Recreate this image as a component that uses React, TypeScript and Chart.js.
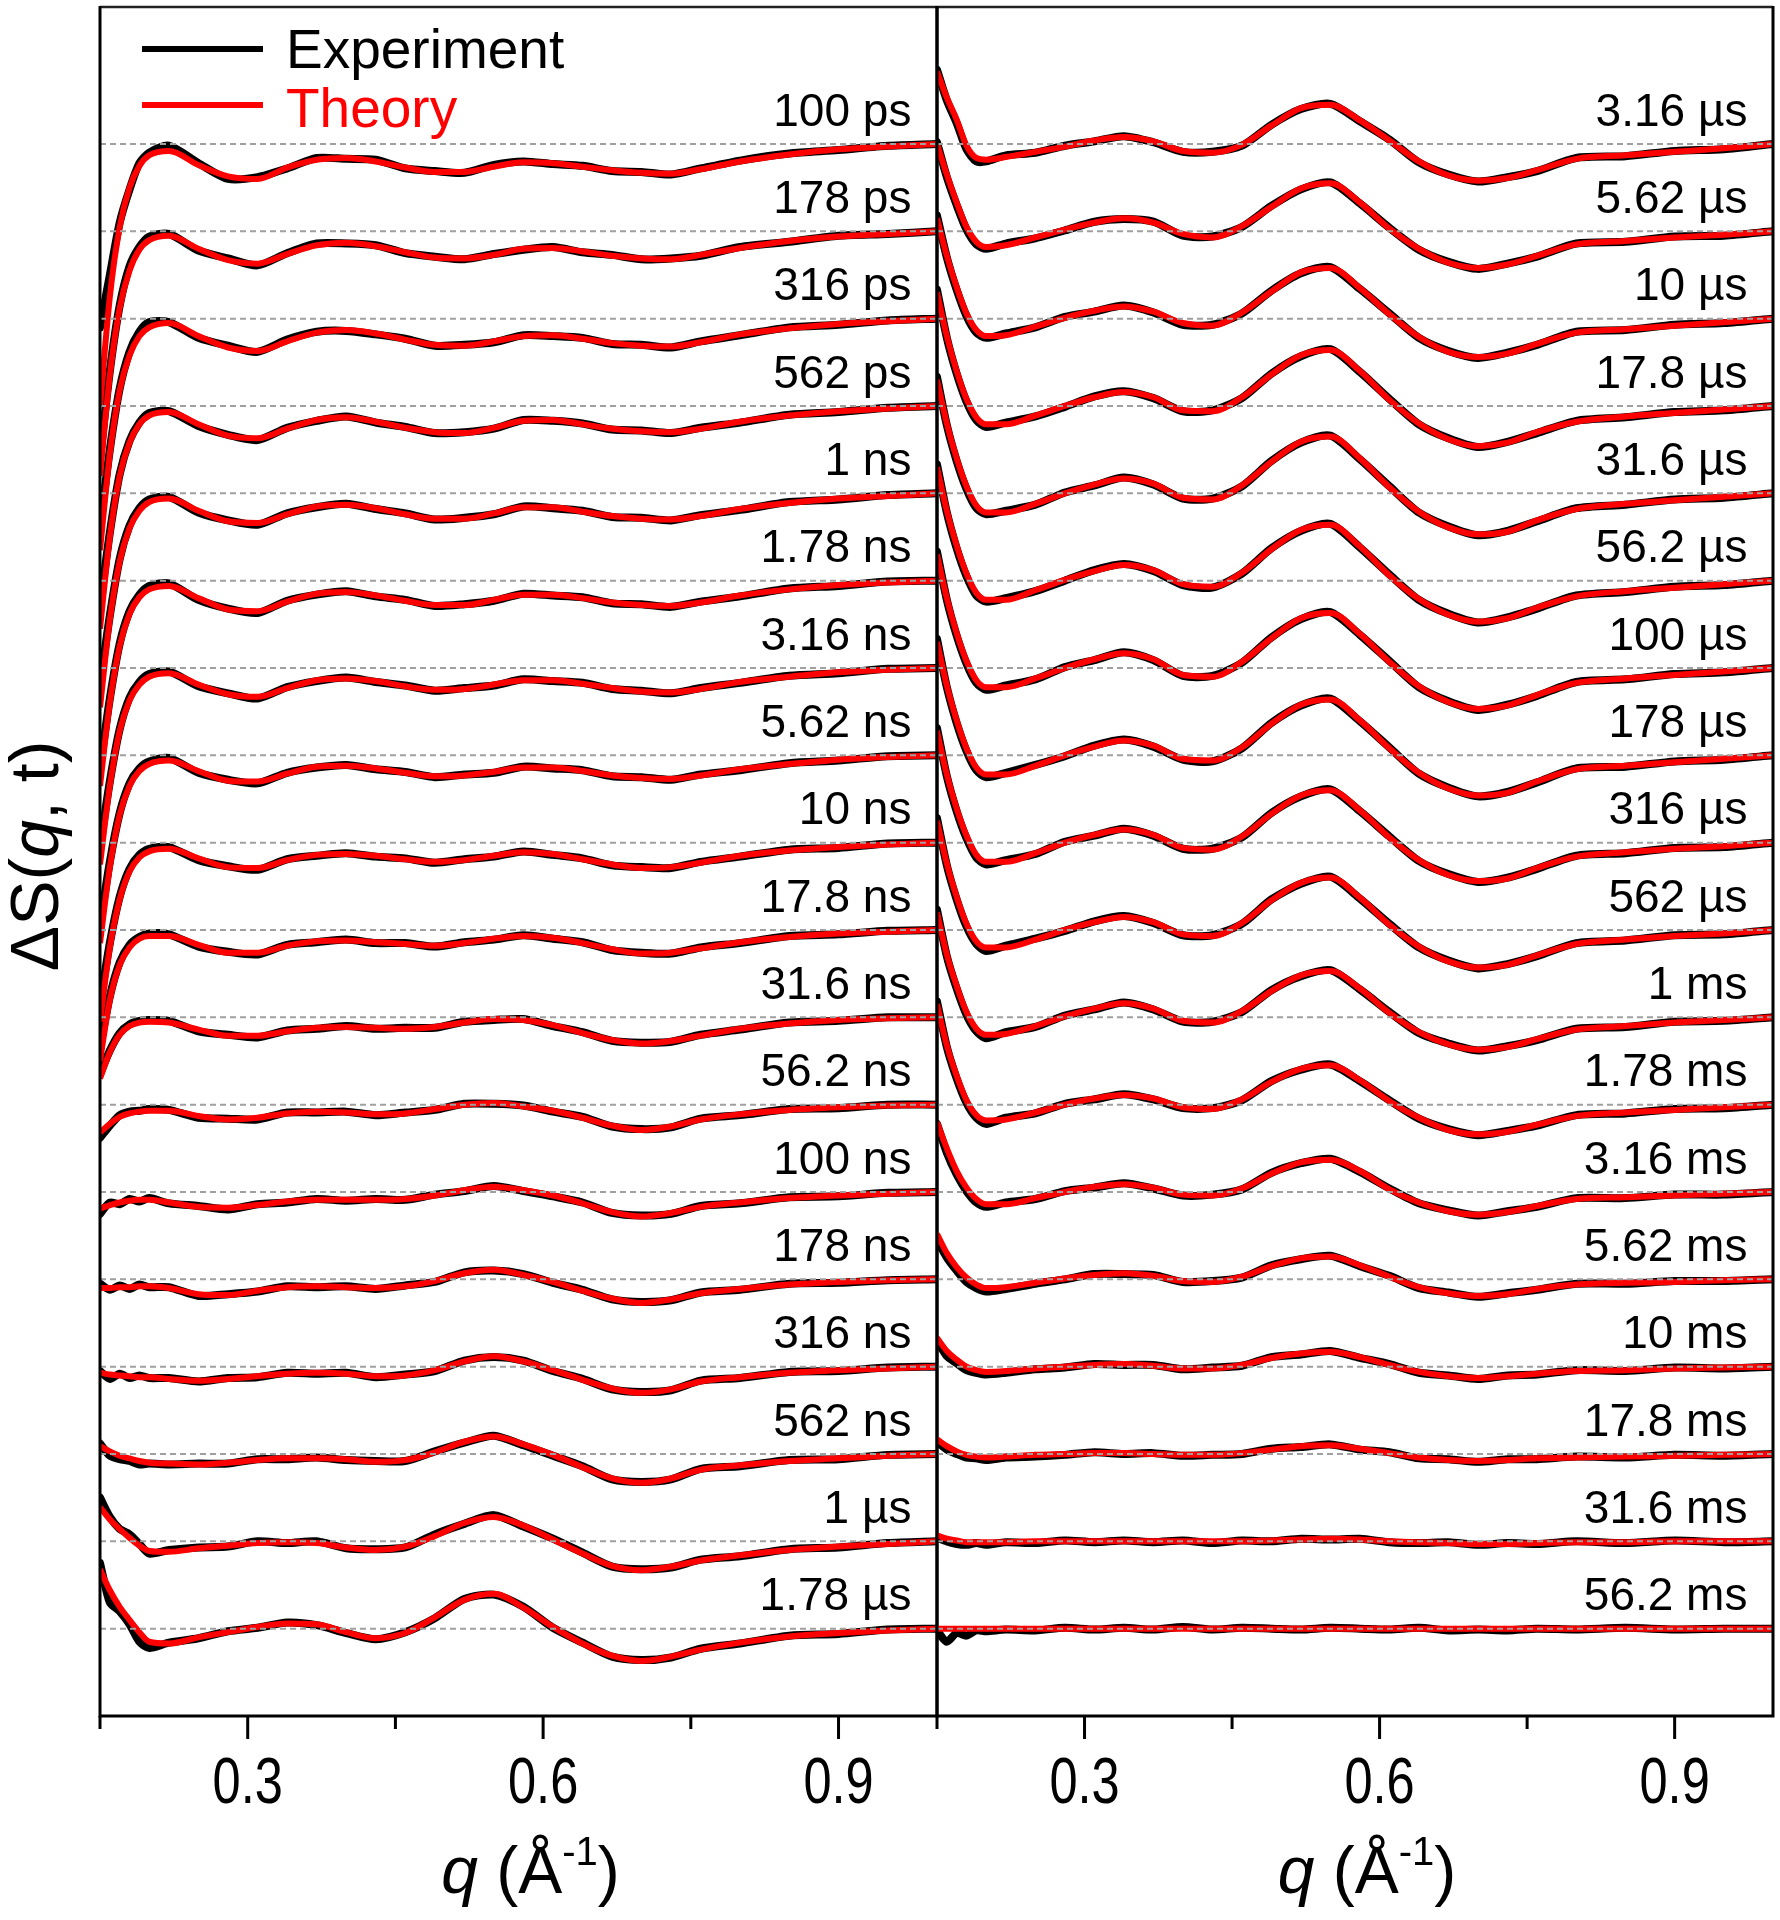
import React, { useEffect, useRef } from 'react';
import { Chart, registerables } from 'chart.js';

Chart.register(...registerables);

const W = 1780;
const H = 1920;

// q grid (Å^-1) shared by every curve
const Q = [0.15, 0.16, 0.17, 0.18, 0.19, 0.2, 0.22, 0.25, 0.28, 0.31, 0.34, 0.37, 0.4, 0.43, 0.46, 0.49, 0.52, 0.55, 0.58, 0.61, 0.64, 0.67, 0.7, 0.73, 0.76, 0.8, 0.85, 0.9, 0.95, 1.0];

const LEFT_LABELS = ['100 ps', '178 ps', '316 ps', '562 ps', '1 ns', '1.78 ns', '3.16 ns', '5.62 ns', '10 ns', '17.8 ns', '31.6 ns', '56.2 ns', '100 ns', '178 ns', '316 ns', '562 ns', '1 µs', '1.78 µs'];
const RIGHT_LABELS = ['3.16 µs', '5.62 µs', '10 µs', '17.8 µs', '31.6 µs', '56.2 µs', '100 µs', '178 µs', '316 µs', '562 µs', '1 ms', '1.78 ms', '3.16 ms', '5.62 ms', '10 ms', '17.8 ms', '31.6 ms', '56.2 ms'];

// ΔS values in hundredths of the stacking step, top curve first
const THEORY_LEFT = [
  [-300, -175, -95, -50, -25, -13, -8, -24, -37, -40, -27, -18, -16, -20, -27, -32, -32, -26, -21, -22, -26, -30, -33, -34, -29, -20, -12, -6, -3, 0],
  [-280, -165, -88, -45, -21, -10, -5, -20, -33, -37, -26, -16, -13, -17, -24, -30, -31, -27, -20, -19, -23, -28, -31, -32, -27, -19, -11, -6, -3, 0],
  [-265, -155, -82, -42, -20, -10, -5, -20, -33, -37, -26, -16, -13, -17, -24, -30, -31, -26, -20, -19, -23, -28, -31, -32, -27, -18, -11, -6, -3, 0],
  [-255, -150, -80, -42, -21, -11, -7, -21, -34, -37, -26, -16, -13, -18, -25, -30, -31, -25, -17, -16, -21, -26, -29, -30, -26, -18, -11, -6, -3, 0],
  [-245, -145, -78, -40, -20, -10, -6, -20, -32, -34, -24, -15, -13, -17, -24, -29, -29, -23, -16, -16, -21, -26, -29, -30, -26, -18, -11, -6, -3, 0],
  [-235, -140, -75, -38, -19, -10, -6, -20, -33, -35, -24, -15, -13, -17, -23, -28, -28, -22, -16, -16, -20, -25, -28, -29, -25, -17, -10, -5, -2, 0],
  [-225, -135, -72, -37, -19, -10, -6, -19, -30, -33, -23, -14, -12, -15, -21, -25, -24, -19, -14, -14, -18, -23, -27, -28, -24, -16, -10, -5, -2, 0],
  [-215, -128, -68, -35, -18, -10, -6, -18, -29, -30, -21, -13, -12, -15, -20, -24, -23, -19, -14, -14, -18, -23, -26, -27, -23, -16, -10, -5, -2, 0],
  [-205, -120, -65, -33, -17, -10, -7, -18, -28, -29, -20, -14, -13, -15, -19, -22, -20, -15, -11, -13, -19, -25, -29, -28, -23, -15, -9, -5, -2, 0],
  [-150, -80, -40, -20, -10, -7, -7, -17, -26, -26, -18, -13, -12, -14, -16, -18, -15, -10, -7, -9, -15, -22, -27, -26, -21, -14, -8, -4, -2, 0],
  [-70, -40, -20, -10, -6, -5, -6, -14, -21, -21, -16, -12, -11, -12, -13, -11, -6, -2, -3, -9, -18, -26, -30, -27, -21, -13, -7, -3, -1, 0],
  [-32, -22, -14, -10, -8, -7, -7, -13, -17, -15, -10, -8, -9, -11, -10, -5, 0, 2, -2, -7, -15, -24, -29, -25, -17, -11, -6, -3, -1, 0],
  [-19, -15, -12, -10, -9, -9, -12, -17, -18, -15, -11, -9, -9, -9, -8, -4, 2, 6, 2, -4, -13, -23, -28, -24, -17, -12, -7, -4, -2, 0],
  [-10, -10, -9, -9, -8, -8, -10, -17, -18, -13, -9, -8, -9, -10, -8, -2, 7, 11, 5, -3, -13, -22, -27, -23, -16, -11, -6, -3, -1, 0],
  [-7, -9, -10, -11, -12, -12, -14, -16, -14, -11, -8, -7, -8, -11, -10, -4, 6, 12, 6, -4, -15, -25, -30, -26, -17, -12, -7, -4, -2, 0],
  [9, 3, -2, -5, -8, -10, -11, -12, -10, -7, -5, -5, -6, -9, -7, 2, 14, 20, 11, -1, -15, -28, -33, -28, -18, -13, -8, -5, -2, 0],
  [39, 25, 14, 4, -5, -11, -12, -8, -5, -2, -1, -2, -7, -10, -6, 6, 21, 28, 18, 2, -14, -28, -33, -29, -22, -16, -10, -6, -3, 0],
  [68, 44, 25, 10, -4, -15, -17, -10, -4, 2, 6, 5, -4, -11, -5, 13, 33, 40, 24, 2, -17, -31, -37, -32, -24, -16, -9, -5, -2, 0],
];

const EXP_LEFT = [
  [-210, -150, -90, -52, -22, -10, -2, -22, -40, -38, -28, -16, -17, -18, -28, -31, -33, -24, -20, -23, -25, -31, -32, -35, -28, -19, -11, -7, -2, 0],
  [-260, -160, -85, -40, -18, -6, -3, -22, -31, -39, -25, -14, -14, -16, -25, -29, -32, -26, -21, -18, -24, -27, -32, -31, -28, -18, -12, -5, -3, 0],
  [-240, -150, -80, -38, -15, -4, -4, -22, -31, -38, -24, -15, -14, -18, -23, -31, -30, -27, -19, -20, -22, -29, -30, -33, -26, -19, -10, -7, -2, 0],
  [-230, -145, -78, -40, -19, -8, -6, -23, -33, -39, -25, -17, -12, -19, -24, -31, -30, -26, -16, -17, -20, -27, -28, -31, -25, -19, -10, -7, -2, 0],
  [-220, -140, -75, -37, -17, -7, -4, -22, -31, -36, -23, -16, -12, -18, -23, -30, -28, -24, -15, -17, -20, -27, -28, -31, -25, -19, -10, -7, -2, 0],
  [-215, -135, -72, -35, -16, -6, -3, -22, -32, -37, -23, -16, -12, -18, -22, -29, -27, -23, -15, -17, -19, -26, -27, -30, -24, -18, -9, -6, -1, 0],
  [-205, -130, -70, -34, -16, -7, -4, -21, -29, -35, -22, -15, -11, -16, -20, -26, -23, -20, -13, -15, -17, -24, -26, -29, -23, -17, -9, -6, -1, 0],
  [-195, -122, -66, -32, -15, -7, -3, -20, -28, -32, -20, -14, -11, -16, -19, -25, -22, -20, -13, -15, -17, -24, -25, -28, -22, -17, -9, -6, -1, 0],
  [-185, -115, -62, -30, -14, -7, -5, -20, -27, -31, -19, -15, -12, -16, -18, -23, -19, -16, -10, -14, -18, -26, -28, -29, -22, -16, -8, -6, -1, 0],
  [-135, -76, -37, -17, -8, -4, -5, -19, -25, -28, -17, -14, -11, -15, -15, -19, -14, -11, -6, -10, -14, -23, -26, -27, -20, -15, -7, -5, -1, 0],
  [-65, -38, -18, -8, -4, -3, -4, -16, -20, -23, -15, -13, -10, -13, -12, -12, -5, -3, -2, -10, -17, -27, -29, -28, -20, -14, -6, -4, 0, 0],
  [-38, -24, -12, -8, -7, -5, -6, -15, -16, -17, -9, -9, -8, -12, -9, -6, 1, 1, -1, -8, -14, -25, -28, -26, -16, -12, -5, -4, 0, 0],
  [-25, -12, -14, -8, -11, -7, -13, -16, -20, -14, -12, -8, -10, -8, -9, -3, 1, 7, 1, -5, -12, -24, -27, -25, -16, -13, -6, -5, -1, 0],
  [-5, -12, -7, -11, -6, -9, -9, -19, -17, -14, -8, -9, -8, -11, -7, -3, 8, 10, 6, -4, -12, -23, -26, -24, -15, -12, -5, -4, -1, 0],
  [-5, -14, -8, -13, -10, -13, -13, -17, -13, -12, -7, -8, -7, -12, -9, -5, 7, 11, 7, -5, -14, -26, -29, -27, -16, -13, -6, -5, -1, 0],
  [12, -2, -6, -8, -12, -11, -12, -11, -11, -6, -6, -4, -7, -8, -8, 3, 13, 21, 10, -2, -14, -29, -32, -29, -17, -14, -7, -6, -1, 0],
  [50, 28, 14, 8, -3, -14, -10, -7, -6, 0, -2, 0, -8, -9, -7, 8, 20, 30, 17, 3, -13, -29, -32, -30, -21, -17, -9, -7, -2, 0],
  [75, 30, 20, 5, -15, -22, -16, -11, -3, 1, 7, 4, -5, -12, -4, 12, 34, 39, 25, 1, -16, -32, -36, -33, -23, -17, -8, -6, -1, 0],
];

const THEORY_RIGHT = [
  [83, 53, 28, -2, -16, -18, -15, -9, -3, 4, 8, 3, -8, -10, -1, 21, 41, 45, 27, 4, -20, -36, -42, -39, -30, -17, -13, -9, -5, 0],
  [100, 65, 33, 5, -12, -18, -16, -7, 2, 10, 15, 10, -3, -7, 6, 28, 49, 55, 33, 3, -20, -36, -42, -38, -28, -15, -11, -7, -4, 0],
  [115, 72, 36, 6, -13, -20, -19, -9, 1, 9, 14, 8, -5, -8, 7, 31, 53, 58, 35, 5, -21, -38, -44, -40, -29, -16, -12, -8, -4, 0],
  [130, 80, 40, 8, -13, -21, -21, -11, 0, 10, 16, 10, -5, -6, 10, 36, 58, 64, 40, 7, -20, -38, -46, -42, -30, -18, -12, -8, -4, 0],
  [130, 80, 40, 8, -14, -22, -22, -12, 0, 10, 17, 11, -5, -7, 9, 36, 59, 65, 40, 7, -21, -39, -47, -44, -31, -18, -12, -8, -4, 0],
  [130, 80, 40, 8, -14, -22, -22, -11, 1, 11, 18, 12, -4, -7, 9, 36, 58, 64, 39, 6, -21, -39, -47, -43, -31, -18, -12, -8, -4, 0],
  [130, 80, 40, 8, -14, -22, -22, -12, 0, 10, 17, 10, -8, -10, 7, 34, 57, 63, 39, 7, -21, -39, -47, -43, -31, -17, -12, -8, -4, 0],
  [130, 80, 40, 8, -14, -22, -22, -12, 0, 10, 17, 11, -4, -6, 9, 36, 58, 64, 40, 8, -20, -38, -46, -43, -30, -16, -12, -8, -4, 0],
  [128, 78, 39, 8, -14, -22, -22, -12, 0, 9, 15, 9, -6, -8, 7, 33, 54, 60, 37, 6, -20, -37, -44, -41, -29, -16, -11, -7, -4, 0],
  [125, 76, 38, 7, -13, -20, -20, -11, 0, 9, 15, 9, -5, -7, 8, 34, 54, 60, 37, 6, -19, -36, -43, -40, -29, -16, -11, -7, -4, 0],
  [120, 72, 36, 6, -13, -20, -19, -10, 1, 10, 16, 10, -4, -6, 7, 30, 48, 53, 33, 5, -17, -31, -37, -34, -25, -14, -10, -6, -3, 0],
  [115, 68, 33, 5, -12, -18, -17, -9, 0, 7, 11, 7, -3, -5, 6, 26, 41, 45, 28, 4, -15, -29, -34, -31, -23, -13, -9, -6, -3, 0],
  [80, 50, 24, 5, -8, -14, -14, -7, 0, 6, 9, 5, -3, -4, 4, 21, 34, 37, 24, 3, -12, -22, -26, -23, -16, -8, -6, -4, -2, 0],
  [52, 30, 14, 2, -6, -10, -9, -4, 1, 5, 7, 4, -2, -3, 3, 15, 24, 26, 16, 3, -9, -16, -19, -17, -11, -6, -4, -3, -1, 0],
  [33, 18, 8, 0, -4, -6, -5, -2, 0, 2, 3, 1, -2, -2, 2, 10, 15, 17, 11, 2, -6, -11, -13, -11, -8, -5, -4, -2, -1, 0],
  [17, 9, 3, -1, -3, -4, -3, -1, 0, 1, 1, 0, -1, -1, 1, 5, 9, 10, 6, 1, -4, -7, -8, -7, -5, -4, -3, -2, -1, 0],
  [7, 3, 1, -1, -1, -1, -1, 0, 0, 0, 0, 0, 0, 0, 0, 1, 2, 3, 2, 0, -1, -2, -3, -3, -2, -1, -1, 0, 0, 0],
  [0, 0, 0, 0, 0, 0, 0, 0, 0, 0, 0, 0, 0, 0, 0, 0, 0, 0, 0, 0, 0, 0, 0, 0, 0, 0, 0, 0, 0, 0],
];

const EXP_RIGHT = [
  [85, 50, 24, -6, -20, -20, -13, -10, -2, 3, 9, 2, -9, -9, -2, 22, 40, 46, 26, 5, -21, -35, -43, -38, -31, -16, -14, -8, -6, 0],
  [102, 62, 30, 2, -15, -20, -14, -8, 1, 11, 14, 11, -5, -6, 5, 29, 48, 56, 32, 4, -21, -35, -43, -37, -29, -14, -12, -6, -5, 0],
  [118, 70, 33, 3, -16, -22, -17, -10, 2, 8, 15, 7, -7, -7, 6, 32, 52, 59, 34, 6, -22, -37, -45, -39, -30, -15, -13, -7, -5, 0],
  [133, 78, 37, 5, -16, -24, -19, -12, -1, 11, 17, 9, -6, -5, 9, 37, 57, 65, 39, 8, -21, -37, -47, -41, -31, -17, -13, -7, -5, 0],
  [133, 78, 37, 5, -17, -24, -20, -13, 1, 9, 18, 10, -6, -6, 8, 37, 58, 66, 39, 8, -22, -38, -48, -43, -32, -17, -13, -7, -5, 0],
  [133, 78, 37, 5, -17, -24, -20, -12, 0, 12, 19, 11, -5, -8, 8, 37, 57, 65, 38, 7, -22, -38, -48, -42, -32, -17, -13, -7, -5, 0],
  [133, 78, 37, 5, -17, -25, -20, -13, 1, 9, 18, 9, -9, -9, 6, 35, 56, 64, 38, 8, -22, -38, -48, -42, -32, -16, -13, -7, -5, 0],
  [133, 78, 37, 5, -17, -25, -20, -11, -1, 11, 18, 10, -5, -7, 8, 37, 57, 65, 39, 9, -21, -37, -47, -42, -31, -15, -13, -7, -5, 0],
  [131, 76, 36, 5, -17, -25, -20, -13, 1, 8, 16, 8, -7, -7, 6, 34, 53, 61, 36, 7, -21, -36, -45, -40, -30, -15, -12, -6, -5, 0],
  [128, 74, 35, 4, -16, -24, -18, -10, -1, 10, 16, 8, -6, -6, 7, 35, 53, 61, 36, 7, -20, -35, -44, -39, -30, -15, -12, -6, -5, 0],
  [123, 70, 33, 3, -16, -24, -17, -11, 2, 9, 17, 9, -5, -5, 6, 31, 47, 54, 32, 6, -18, -30, -38, -33, -26, -13, -11, -5, -4, 0],
  [118, 66, 30, 2, -15, -22, -15, -10, 1, 6, 12, 6, -4, -4, 5, 27, 40, 46, 27, 5, -16, -28, -35, -30, -24, -12, -10, -5, -4, 0],
  [78, 45, 20, 1, -12, -17, -12, -8, 1, 5, 10, 4, -4, -3, 3, 22, 33, 38, 23, 4, -13, -21, -27, -22, -17, -7, -7, -3, -3, 0],
  [45, 25, 10, -3, -10, -14, -11, -5, 0, 6, 6, 5, -3, -2, 2, 16, 23, 27, 15, 4, -10, -15, -20, -16, -12, -5, -5, -2, -2, 0],
  [30, 12, 4, -4, -7, -9, -7, -3, -1, 3, 2, 2, -3, -1, 1, 11, 14, 18, 10, 3, -7, -10, -14, -10, -9, -4, -5, -1, -2, 0],
  [14, 5, 0, -4, -5, -7, -4, -3, -1, 2, 0, 1, -2, -1, 0, 6, 8, 11, 5, 2, -5, -6, -9, -6, -6, -3, -4, -1, -2, 0],
  [4, 0, -3, -4, -2, -4, -1, -2, 1, -1, 1, -1, 1, -2, 1, 0, 3, 2, 3, -1, -2, -1, -4, -2, -3, 0, -2, 1, -1, 0],
  [-2, -15, -5, -8, -2, -3, -1, -2, 1, -1, 1, -1, 2, -1, 1, 0, -1, 1, 0, -1, 1, -2, -1, -2, 0, -1, 1, -1, 0, 0],
];

const X_MIN = 0.15;
const X_MAX = 1.0;
const X_MAJOR_TICKS = [0.3, 0.6, 0.9];
const X_MINOR_TICKS = [0.15, 0.45, 0.75];
const STEP = 100; // vertical offset between stacked curves
const Y_MIN = -100;
const Y_MAX = 1858;
const LABEL_Q = 0.974;
const LABEL_RISE = 21;

const SANS = '"Liberation Sans", Arial, Helvetica, sans-serif';

function makeDatasets(theory: number[][], exp: number[][]) {
  const n = theory.length;
  const out: any[] = [];
  for (let i = 0; i < n; i++) {
    const off = (n - 1 - i) * STEP;
    out.push({
      label: 'zero',
      data: [{ x: X_MIN, y: off }, { x: X_MAX, y: off }],
      borderColor: '#a0a0a0',
      borderWidth: 2,
      borderDash: [6, 4],
      pointRadius: 0,
      tension: 0,
      order: 0,
    });
    out.push({
      label: 'Experiment',
      data: Q.map((q, k) => ({ x: q, y: exp[i][k] + off })),
      borderColor: '#000000',
      borderWidth: 8,
      borderJoinStyle: 'round',
      borderCapStyle: 'round',
      pointRadius: 0,
      tension: 0.25,
      order: 2,
    });
    out.push({
      label: 'Theory',
      data: Q.map((q, k) => ({ x: q, y: theory[i][k] + off })),
      borderColor: '#ff0000',
      borderWidth: 6,
      borderJoinStyle: 'round',
      pointRadius: 0,
      cubicInterpolationMode: 'monotone',
      order: 1,
    });
  }
  return out;
}

function drawParts(ctx: CanvasRenderingContext2D, parts: { t: string; f: string; dy: number }[], cx: number, base: number) {
  let total = 0;
  for (const p of parts) {
    ctx.font = p.f;
    total += ctx.measureText(p.t).width;
  }
  let x = cx - total / 2;
  ctx.textAlign = 'left';
  ctx.textBaseline = 'alphabetic';
  for (const p of parts) {
    ctx.font = p.f;
    ctx.fillText(p.t, x, base + p.dy);
    x += ctx.measureText(p.t).width;
  }
}

function decorPlugin(side: 'left' | 'right', labels: string[]) {
  return {
    id: 'decor_' + side,
    afterDraw(chart: any) {
      const ctx: CanvasRenderingContext2D = chart.ctx;
      const a = chart.chartArea;
      const xs = chart.scales.x;
      const ys = chart.scales.y;
      ctx.save();
      // frame
      ctx.strokeStyle = '#222';
      ctx.lineWidth = 2.5;
      ctx.beginPath();
      ctx.moveTo(a.left, a.top + 1);
      ctx.lineTo(a.right, a.top + 1);
      ctx.stroke();
      ctx.strokeStyle = '#000';
      ctx.lineWidth = 3;
      ctx.beginPath();
      ctx.moveTo(a.left, a.top);
      ctx.lineTo(a.left, a.bottom);
      ctx.moveTo(a.left - 1.5, a.bottom);
      ctx.lineTo(a.right + 1.5, a.bottom);
      ctx.moveTo(a.right, a.top);
      ctx.lineTo(a.right, a.bottom);
      ctx.stroke();
      // ticks
      ctx.lineWidth = 3;
      ctx.beginPath();
      for (const v of X_MAJOR_TICKS) {
        const px = xs.getPixelForValue(v);
        ctx.moveTo(px, a.bottom);
        ctx.lineTo(px, a.bottom + 23);
      }
      for (const v of X_MINOR_TICKS) {
        const px = xs.getPixelForValue(v);
        ctx.moveTo(px, a.bottom);
        ctx.lineTo(px, a.bottom + 13);
      }
      ctx.stroke();
      // tick labels (narrow)
      ctx.fillStyle = '#000';
      ctx.font = `64px ${SANS}`;
      ctx.textAlign = 'center';
      ctx.textBaseline = 'alphabetic';
      for (const v of X_MAJOR_TICKS) {
        const px = xs.getPixelForValue(v);
        ctx.save();
        ctx.translate(px, a.bottom + 87);
        ctx.scale(0.79, 1);
        ctx.fillText(v.toFixed(1), 0, 0);
        ctx.restore();
      }
      // x title
      drawParts(
        ctx,
        [
          { t: 'q', f: `italic 66px ${SANS}`, dy: 0 },
          { t: ' (Å', f: `66px ${SANS}`, dy: 0 },
          { t: '-1', f: `40px ${SANS}`, dy: -28 },
          { t: ')', f: `66px ${SANS}`, dy: 0 },
        ],
        (a.left + a.right) / 2 + 12,
        a.bottom + 177
      );
      // curve labels
      ctx.font = `46px ${SANS}`;
      ctx.textAlign = 'right';
      ctx.fillStyle = '#000';
      const n = labels.length;
      labels.forEach((t, i) => {
        const off = (n - 1 - i) * STEP;
        ctx.fillText(t, xs.getPixelForValue(LABEL_Q), ys.getPixelForValue(off + LABEL_RISE));
      });
      if (side === 'left') {
        // legend
        ctx.lineWidth = 6;
        ctx.lineCap = 'butt';
        ctx.strokeStyle = '#000';
        ctx.beginPath();
        ctx.moveTo(142, 49);
        ctx.lineTo(263, 49);
        ctx.stroke();
        ctx.strokeStyle = '#ff0000';
        ctx.beginPath();
        ctx.moveTo(142, 105);
        ctx.lineTo(263, 105);
        ctx.stroke();
        ctx.font = `55px ${SANS}`;
        ctx.textAlign = 'left';
        ctx.fillStyle = '#000';
        ctx.fillText('Experiment', 286, 68);
        ctx.fillStyle = '#ff0000';
        ctx.fillText('Theory', 286, 127);
        // y title
        ctx.fillStyle = '#000';
        ctx.save();
        ctx.translate(58, 856);
        ctx.rotate(-Math.PI / 2);
        drawParts(
          ctx,
          [
            { t: 'ΔS(', f: `68px ${SANS}`, dy: 0 },
            { t: 'q', f: `italic 68px ${SANS}`, dy: 0 },
            { t: ', t)', f: `68px ${SANS}`, dy: 0 },
          ],
          0,
          0
        );
        ctx.restore();
      }
      ctx.restore();
    },
  };
}

function makeChart(canvas: HTMLCanvasElement, theory: number[][], exp: number[][], labels: string[], side: 'left' | 'right', padLeft: number, padRight: number) {
  return new Chart(canvas, {
    type: 'line',
    data: { datasets: makeDatasets(theory, exp) },
    options: {
      animation: false,
      responsive: false,
      maintainAspectRatio: false,
      devicePixelRatio: 1,
      events: [],
      layout: { padding: { left: padLeft, right: padRight, top: 6, bottom: 204 } },
      plugins: { legend: { display: false }, tooltip: { enabled: false } },
      scales: {
        x: { type: 'linear', display: false, min: X_MIN, max: X_MAX },
        y: { type: 'linear', display: false, min: Y_MIN, max: Y_MAX },
      },
    },
    plugins: [decorPlugin(side, labels)],
  } as any);
}

export default function App() {
  const leftRef = useRef<HTMLCanvasElement>(null);
  const rightRef = useRef<HTMLCanvasElement>(null);

  useEffect(() => {
    document.body.style.margin = '0';
    const c1 = makeChart(leftRef.current!, THEORY_LEFT, EXP_LEFT, LEFT_LABELS, 'left', 100, W - 937);
    const c2 = makeChart(rightRef.current!, THEORY_RIGHT, EXP_RIGHT, RIGHT_LABELS, 'right', 937, W - 1773);
    return () => {
      c1.destroy();
      c2.destroy();
    };
  }, []);

  const cs: React.CSSProperties = { position: 'absolute', left: 0, top: 0, width: W, height: H };
  return (
    <div style={{ position: 'absolute', left: 0, top: 0, width: W, height: H, background: '#ffffff' }}>
      <canvas ref={leftRef} width={W} height={H} style={cs} />
      <canvas ref={rightRef} width={W} height={H} style={cs} />
    </div>
  );
}
